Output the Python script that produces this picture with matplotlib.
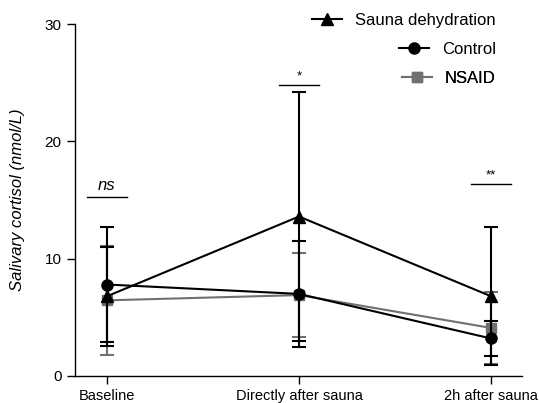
import matplotlib
matplotlib.use("Agg")
import matplotlib.pyplot as plt
from matplotlib.lines import Line2D

plt.rcParams['font.family'] = ['Liberation Sans', 'DejaVu Sans']

categories = ["Baseline", "Directly after sauna", "2h after sauna"]
sauna_mean = [6.8, 13.6, 6.8]
sauna_sd = [4.2, 10.6, 5.9]
control_mean = [7.8, 7.0, 3.2]
control_sd = [4.9, 4.5, 1.5]
nsaid_mean = [6.45, 6.9, 4.1]
nsaid_sd = [4.65, 3.6, 3.1]
sig_labels = ["ns", "*", "**"]
sig_heights = [15.3, 24.8, 16.4]

fig = plt.figure(figsize=(5.39, 4.03), dpi=100)
ax = fig.add_axes([0.139, 0.067, 0.829, 0.873])

x = list(range(len(categories)))
gray = '#707070'
ax.errorbar(x, nsaid_mean, yerr=nsaid_sd, color=gray, marker='s', ms=7, lw=1.5,
            capsize=5, capthick=1.5, elinewidth=1.5, zorder=3)
ax.errorbar(x, control_mean, yerr=control_sd, color='black', marker='o', ms=8, lw=1.5,
            capsize=5, capthick=1.5, elinewidth=1.5, zorder=4)
ax.errorbar(x, sauna_mean, yerr=sauna_sd, color='black', marker='^', ms=8, lw=1.5,
            capsize=5, capthick=1.5, elinewidth=1.5, zorder=5)

for xi, lab, h in zip(x, sig_labels, sig_heights):
    ax.plot([xi - 0.105, xi + 0.105], [h, h], color='black', lw=1.0, clip_on=False)
    if lab == "ns":
        ax.text(xi, h + 0.3, lab, ha='center', va='bottom', fontsize=12, style='italic')
    else:
        ax.text(xi, h + 0.2, lab, ha='center', va='bottom', fontsize=9.5)

ax.set_xlim(-0.167, 2.16)
ax.set_ylim(0, 30)
ax.set_yticks([0, 10, 20, 30])
ax.set_xticks(x)
ax.set_xticklabels(categories, fontsize=10.5)
ax.tick_params(axis='y', labelsize=11, length=6, width=1)
ax.tick_params(axis='x', length=6, width=1)
for s in ['top', 'right']:
    ax.spines[s].set_visible(False)
for s in ['left', 'bottom']:
    ax.spines[s].set_linewidth(1.0)
ax.set_ylabel("Salivary cortisol (nmol/L)", style='italic', fontsize=12, labelpad=14)

handles = [
    (Line2D([], [], color='black', marker='^', ms=8, lw=1.5), "Sauna dehydration", 0),
    (Line2D([], [], color='black', marker='o', ms=8, lw=1.5), "Control", 1),
    (Line2D([], [], color=gray, marker='s', ms=7, lw=1.5), "NSAID", 2),
]
for h, lab, i in handles:
    leg = ax.legend([h], [lab], loc='upper right',
                    bbox_to_anchor=(0.957, 1.052 - 0.083 * i),
                    frameon=False, fontsize=12, handlelength=1.8, handletextpad=0.8,
                    borderaxespad=0)
    ax.add_artist(leg)

fig.savefig("out.png", dpi=100)
